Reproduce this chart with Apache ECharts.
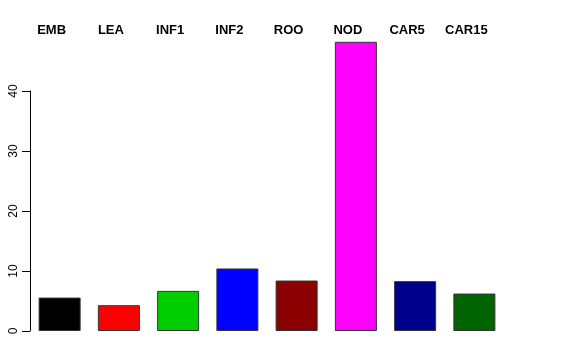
<!DOCTYPE html>
<html><head><meta charset="utf-8">
<script src="https://cdn.jsdelivr.net/npm/echarts@6/dist/echarts.min.js"></script>
<style>html,body{margin:0;padding:0;background:#fff}#c{width:576px;height:360px}</style>
</head><body><div id="c"></div>
<script>
var categories = ["EMB","LEA","INF1","INF2","ROO","NOD","CAR5","CAR15"];
var values = [5.57, 4.3, 6.69, 10.42, 8.41, 48.2, 8.31, 6.24];
var colors = ["#000000","#FF0000","#00CD00","#0000FF","#8B0000","#FF00FF","#00008B","#006400"];
var yTicks = [0,10,20,30,40];

var chart = echarts.init(document.getElementById('c'), null, {renderer:'canvas'});
chart.setOption({
  animation:false,
  backgroundColor:'#fff',
  grid:{left:30, right:72, top:91, bottom:29, containLabel:false},
  xAxis:[{
    type:'category', data:categories, position:'top',
    axisLine:{show:false}, axisTick:{show:false},
    axisLabel:{show:true, margin:54, fontFamily:'Liberation Sans, Arial, sans-serif', fontSize:13, fontWeight:'bold', color:'#000', padding:[0,16,0,0]}
  }],
  yAxis:{
    type:'value', min:0, max:40, interval:10,
    axisLine:{show:true, lineStyle:{color:'#000', width:1}},
    axisTick:{show:true, length:8, lineStyle:{color:'#000'}},
    axisLabel:{rotate:90, margin:10, fontFamily:'Liberation Sans, Arial, sans-serif', fontSize:12, color:'#000',
      formatter:function(v){return yTicks.indexOf(v)>=0?String(v):'';}},
    splitLine:{show:false}
  },
  series:[{
    type:'bar', clip:false, barWidth:42,
    data:values.map(function(v,i){return {value:v, itemStyle:{color:colors[i]}};}),
    itemStyle:{borderColor:'#333', borderWidth:1}
  }]
});
</script></body></html>
